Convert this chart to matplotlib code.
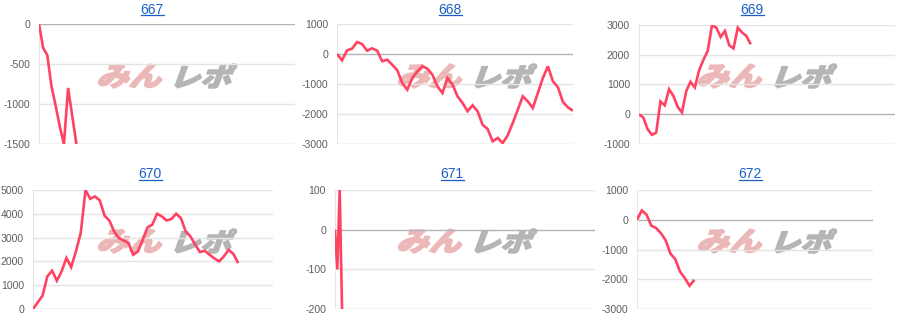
import numpy as np
import matplotlib
matplotlib.use('Agg')
import matplotlib.pyplot as plt
from matplotlib.textpath import TextPath
from matplotlib.patches import PathPatch
from matplotlib.path import Path
from matplotlib.font_manager import FontProperties

plt.rcParams['font.family'] = ['Liberation Sans', 'DejaVu Sans']
plt.rcParams['axes.unicode_minus'] = False

# ---- data ----
titles = ['667', '668', '669', '670', '671', '672']

s667 = [0, -300, -390, -780, -1020, -1280, -1500, -800, -1150, -1500]
s668 = [0, -210, 120, 180, 400, 330, 110, 190, 110, -240, -190, -360, -540,
        -970, -1190, -800, -580, -410, -490, -690, -1080, -1300, -800, -1020,
        -1410, -1630, -1910, -1710, -1910, -2360, -2500, -2910, -2800, -2970,
        -2710, -2300, -1860, -1410, -1580, -1800, -1300, -800, -410, -910,
        -1110, -1600, -1780, -1890]
s669 = [0, -110, -500, -690, -620, 430, 300, 840, 620, 250, 60, 780, 1090,
        900, 1480, 1830, 2130, 3000, 2910, 2600, 2800, 2320, 2210, 2910, 2750,
        2630, 2350]
s670 = [0, 280, 560, 1370, 1610, 1190, 1580, 2140, 1760, 2420, 3190, 4990,
        4630, 4730, 4560, 3920, 3720, 3260, 2980, 2880, 2770, 2280, 2420, 2910,
        3430, 3540, 4000, 3890, 3720, 3780, 4000, 3820, 3260, 3050, 2700, 2390,
        2450, 2280, 2130, 2000, 2210, 2490, 2310, 1930]
s671 = [0, -100, 100, -200]
s672 = [0, 310, 170, -200, -280, -450, -690, -1140, -1320, -1740, -1960,
        -2220, -2020]
series = [s667, s668, s669, s670, s671, s672]

yticks = [
    [-1500, -1000, -500, 0],
    [-3000, -2000, -1000, 0, 1000],
    [-1000, 0, 1000, 2000, 3000],
    [0, 1000, 2000, 3000, 4000, 5000],
    [-200, -100, 0, 100],
    [-3000, -2000, -1000, 0, 1000],
]

# ---- layout (pixels) ----
W, H = 900, 330
boxes = [  # left, top, right, bottom
    (39, 24, 295, 144),
    (337, 24, 573, 144),
    (639, 25, 895, 144),
    (33, 190, 273, 309),
    (335, 190, 595, 309),
    (637, 190, 873, 309),
]
xmax = [61.6, 47, 59.6, 50.3, 111, 49.4]
title_pos = [(152, 9.5), (450, 9.5), (752, 9.5), (150, 174.5), (452, 174.5), (750, 174.5)]
panel_off = [(0, 0), (300, 0), (600, 0), (0, 165), (300, 165), (600, 165)]

LINE = '#ff4262'
LINK = '#1a5fc6'

fig = plt.figure(figsize=(W / 100, H / 100), dpi=100)
bg = fig.add_axes([0, 0, 1, 1], zorder=0)
bg.set_xlim(0, W)
bg.set_ylim(H, 0)
bg.axis('off')

cjk = FontProperties(family='Noto Sans CJK JP', weight='black')


def logo(text, x0, y0, x1, y1, color):
    tp = TextPath((0, 0), text, size=1, prop=cjk)
    v = tp.vertices.copy()
    v[:, 0] = v[:, 0] + 0.3 * v[:, 1]
    mn = v.min(axis=0)
    mx = v.max(axis=0)
    n = (v - mn) / (mx - mn)
    nv = np.column_stack([x0 + n[:, 0] * (x1 - x0), y1 - n[:, 1] * (y1 - y0)])
    bg.add_patch(PathPatch(Path(nv, tp.codes), facecolor=color, edgecolor=color,
                           lw=1.1, joinstyle='round'))


for (ox, oy) in panel_off:
    logo('みん', ox + 96, oy + 64, ox + 162, oy + 88, '#ebb7b7')
    logo('レポ', ox + 169, oy + 64, ox + 237, oy + 88, '#b5b5b5')

for i in range(6):
    l, t, r, b = boxes[i]
    ax = fig.add_axes([l / W, 1 - b / H, (r - l) / W, (b - t) / H], zorder=1)
    ax.set_facecolor('none')
    tk = yticks[i]
    for y in tk:
        if y == 0:
            c = '#b3b3b3'
        elif y == min(tk):
            c = '#cfcfcf'
        else:
            c = '#e4e4e4'
        ax.axhline(y, color=c, lw=1, zorder=1)
    ax.axvline(0, color='#e6e6e6', lw=1.5, zorder=1)
    ys = series[i]
    ax.plot(range(len(ys)), ys, color=LINE, lw=1.9, zorder=3,
            solid_joinstyle='miter', solid_capstyle='butt')
    ax.set_xlim(0, xmax[i])
    ax.set_ylim(min(tk), max(tk))
    ax.set_yticks(tk)
    ax.set_yticklabels([str(v) for v in tk])
    ax.set_xticks([])
    for s in ax.spines.values():
        s.set_visible(False)
    ax.tick_params(axis='y', length=0, pad=6.5, labelsize=7.6, labelcolor='#5f5f5f')

    cx, cy = title_pos[i]
    bg.text(cx, cy, titles[i], ha='center', va='center', fontsize=10, color=LINK)
    bg.plot([cx - 11.5, cx + 11.5], [cy + 5.5, cy + 5.5], color=LINK, lw=0.9)

fig.savefig('out.png', dpi=100)
